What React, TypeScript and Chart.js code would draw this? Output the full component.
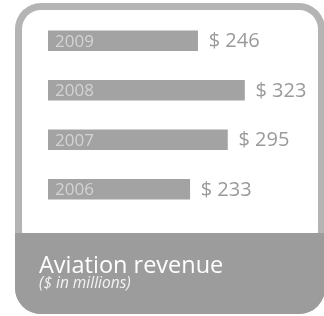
import React, { useEffect, useRef } from "react";
import { Chart, registerables } from "chart.js";

Chart.register(...registerables);

const years = ["2009", "2008", "2007", "2006"];
const revenue = [246, 323, 295, 233];
const valuePrefix = "$ ";
const titleText = "Aviation revenue";
const subtitleText = "($ in millions)";

const BORDER = "#b4b4b4";
const BAND = "#9c9c9c";
const BAR = "#a3a3a3";
const VALUE_COLOR = "#9a9a9a";
const YEAR_COLOR = "#d3d3d3";

function roundRectPath(ctx: CanvasRenderingContext2D, x: number, y: number, w: number, h: number, r: number) {
  ctx.beginPath();
  ctx.moveTo(x + r, y);
  ctx.lineTo(x + w - r, y);
  ctx.arcTo(x + w, y, x + w, y + r, r);
  ctx.lineTo(x + w, y + h - r);
  ctx.arcTo(x + w, y + h, x + w - r, y + h, r);
  ctx.lineTo(x + r, y + h);
  ctx.arcTo(x, y + h, x, y + h - r, r);
  ctx.lineTo(x, y + r);
  ctx.arcTo(x, y, x + r, y, r);
  ctx.closePath();
}

const framePlugin = {
  id: "frame",
  beforeDraw(chart: any) {
    const ctx: CanvasRenderingContext2D = chart.ctx;
    ctx.save();
    ctx.fillStyle = "#ffffff";
    ctx.fillRect(0, 0, chart.width, chart.height);
    roundRectPath(ctx, 15, 3, 310, 311, 26);
    ctx.fillStyle = BORDER;
    ctx.fill();
    roundRectPath(ctx, 22, 10, 296, 240, 19);
    ctx.fillStyle = "#ffffff";
    ctx.fill();
    roundRectPath(ctx, 15, 3, 310, 311, 26);
    ctx.clip();
    ctx.fillStyle = BAND;
    ctx.fillRect(0, 233, chart.width, chart.height - 233);
    ctx.restore();
  },
  afterDraw(chart: any) {
    const ctx: CanvasRenderingContext2D = chart.ctx;
    ctx.save();
    ctx.textAlign = "left";
    ctx.textBaseline = "alphabetic";
    ctx.fillStyle = "#ffffff";
    ctx.font = '23.5px "Open Sans"';
    ctx.fillText(titleText, 39, 273);
    ctx.fillStyle = "#f2f2f2";
    ctx.font = 'italic 15.5px "Open Sans"';
    ctx.fillText(subtitleText, 39, 288);
    ctx.restore();
  },
};

const labelPlugin = {
  id: "barLabels",
  afterDatasetsDraw(chart: any) {
    const ctx: CanvasRenderingContext2D = chart.ctx;
    const meta = chart.getDatasetMeta(0);
    const data = chart.data.datasets[0].data as number[];
    const labels = chart.data.labels as string[];
    const yScale = chart.scales.y;
    ctx.save();
    ctx.textAlign = "left";
    ctx.textBaseline = "middle";
    ctx.fillStyle = YEAR_COLOR;
    ctx.font = '17px "Open Sans"';
    labels.forEach((lab, i) => {
      ctx.fillText(lab, chart.chartArea.left + 7, yScale.getPixelForValue(i) + 1);
    });
    ctx.fillStyle = VALUE_COLOR;
    ctx.font = '20px "Open Sans"';
    meta.data.forEach((bar: any, i: number) => {
      ctx.fillText(valuePrefix + data[i], bar.x + 11, bar.y + 1);
    });
    ctx.restore();
  },
};

export default function App() {
  const canvasRef = useRef<HTMLCanvasElement | null>(null);

  useEffect(() => {
    if (!canvasRef.current) return;
    const chart = new Chart(canvasRef.current, {
      type: "bar",
      data: {
        labels: years,
        datasets: [
          {
            data: revenue,
            backgroundColor: BAR,
            borderWidth: 0,
            barThickness: 20,
          },
        ],
      },
      options: {
        indexAxis: "y",
        animation: false,
        responsive: true,
        maintainAspectRatio: false,
        layout: { padding: { left: 48, right: 12, top: 16, bottom: 102 } },
        plugins: {
          legend: { display: false },
          tooltip: { enabled: false },
          title: { display: false },
        },
        scales: {
          x: { display: false, min: 0, max: 434 },
          y: { display: false },
        },
      },
      plugins: [framePlugin, labelPlugin],
    });
    return () => chart.destroy();
  }, []);

  return (
    <div style={{ position: "fixed", left: 0, top: 0, width: 324, height: 316 }}>
      <canvas ref={canvasRef} />
    </div>
  );
}
